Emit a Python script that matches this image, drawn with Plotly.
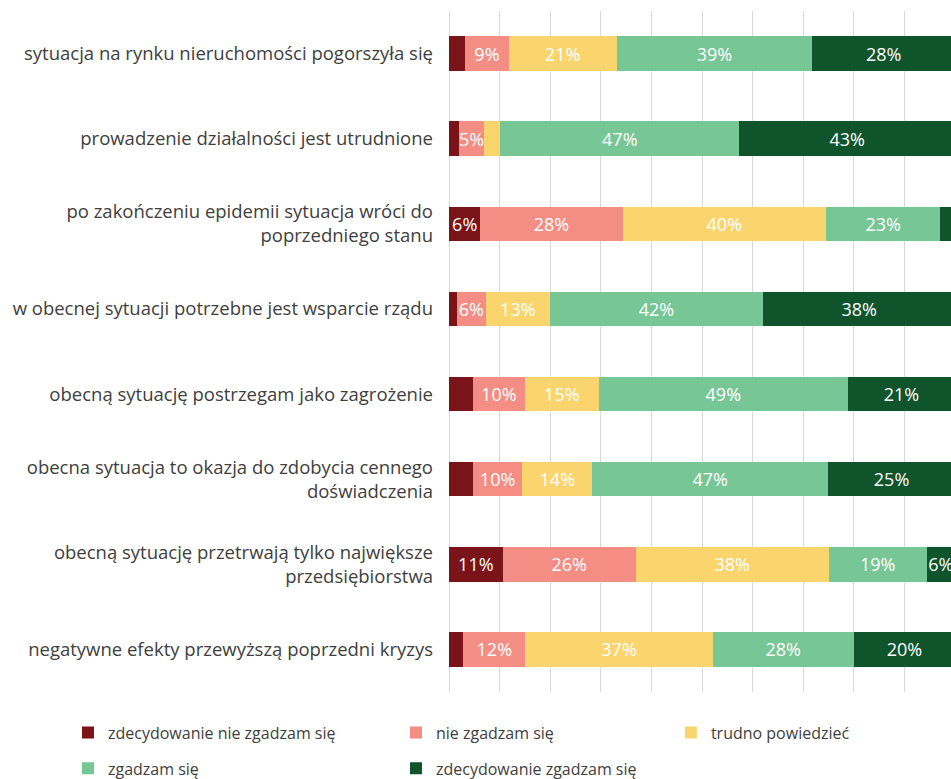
import plotly.graph_objects as go

categories = [
    "sytuacja na rynku nieruchomości pogorszyła się",
    "prowadzenie działalności jest utrudnione",
    "po zakończeniu epidemii sytuacja wróci do<br>poprzedniego stanu",
    "w obecnej sytuacji potrzebne jest wsparcie rządu",
    "obecną sytuację postrzegam jako zagrożenie",
    "obecna sytuacja to okazja do zdobycia cennego<br>doświadczenia",
    "obecną sytuację przetrwają tylko największe<br>przedsiębiorstwa",
    "negatywne efekty przewyższą poprzedni kryzys",
]

series_names = [
    "zdecydowanie nie zgadzam się",
    "nie zgadzam się",
    "trudno powiedzieć",
    "zgadzam się",
    "zdecydowanie zgadzam się",
]

strongly_disagree = [3.2, 2.0, 6.2, 1.5, 4.7, 4.7, 10.6, 2.8]
disagree = [8.6, 4.9, 28.1, 5.8, 10.3, 9.8, 26.3, 12.3]
hard_to_say = [21.3, 3.2, 40.2, 12.6, 14.6, 13.8, 38.1, 37.0]
agree = [38.7, 47.3, 22.6, 42.2, 49.2, 46.6, 19.4, 27.9]
strongly_agree = [28.2, 42.6, 2.9, 37.9, 21.2, 25.1, 5.6, 20.0]

series_values = [strongly_disagree, disagree, hard_to_say, agree, strongly_agree]
colors = ["#7B1418", "#F48D84", "#FAD56E", "#77C695", "#10542C"]
legend_ids = ["legend", "legend2", "legend3", "legend", "legend2"]

FONT = "Open Sans"
TEXT_COLOR = "#404040"

fig = go.Figure()
for i, (name, vals) in enumerate(zip(series_names, series_values)):
    labels = [f"{round(v)}%" if v >= 4.85 else "" for v in vals]
    fig.add_trace(go.Bar(
        y=categories,
        x=vals,
        name=name,
        orientation="h",
        marker=dict(color=colors[i], line=dict(width=0)),
        text=labels,
        textposition="inside",
        insidetextanchor="middle",
        textangle=0,
        constraintext="none",
        textfont=dict(color="white", size=18, family=FONT),
        legend=legend_ids[i],
        legendgroup=name,
        hoverinfo="x+y+name",
    ))

legend_common = dict(
    orientation="v",
    font=dict(size=16, family=FONT, color=TEXT_COLOR),
    bgcolor="rgba(0,0,0,0)",
    borderwidth=0,
    yanchor="top",
    xanchor="left",
    tracegroupgap=12,
    traceorder="grouped",
)

fig.update_layout(
    width=951,
    height=779,
    margin=dict(l=449, r=0, t=11, b=87, autoexpand=False),
    barmode="stack",
    bargap=0.595,
    plot_bgcolor="white",
    paper_bgcolor="white",
    font=dict(family=FONT, size=16, color=TEXT_COLOR),
    xaxis=dict(
        range=[0, 99.2],
        dtick=10,
        showgrid=True,
        gridcolor="#D9D9D9",
        gridwidth=1,
        zeroline=True,
        zerolinecolor="#D9D9D9",
        zerolinewidth=1,
        showticklabels=False,
        showline=False,
        fixedrange=True,
    ),
    yaxis=dict(
        autorange="reversed",
        showgrid=False,
        showline=False,
        ticks="",
        ticklabelstandoff=15,
        tickfont=dict(size=18.5, family=FONT, color=TEXT_COLOR),
        fixedrange=True,
    ),
    legend=dict(x=-0.759, y=-0.0347, **legend_common),
    legend2=dict(x=-0.1056, y=-0.0347, **legend_common),
    legend3=dict(x=0.442, y=-0.0347, **legend_common),
    showlegend=True,
)

fig.write_html(
    "out.html",
    config={"displayModeBar": False},
    post_script="document.body.style.margin='0';document.body.style.overflow='hidden';",
)
